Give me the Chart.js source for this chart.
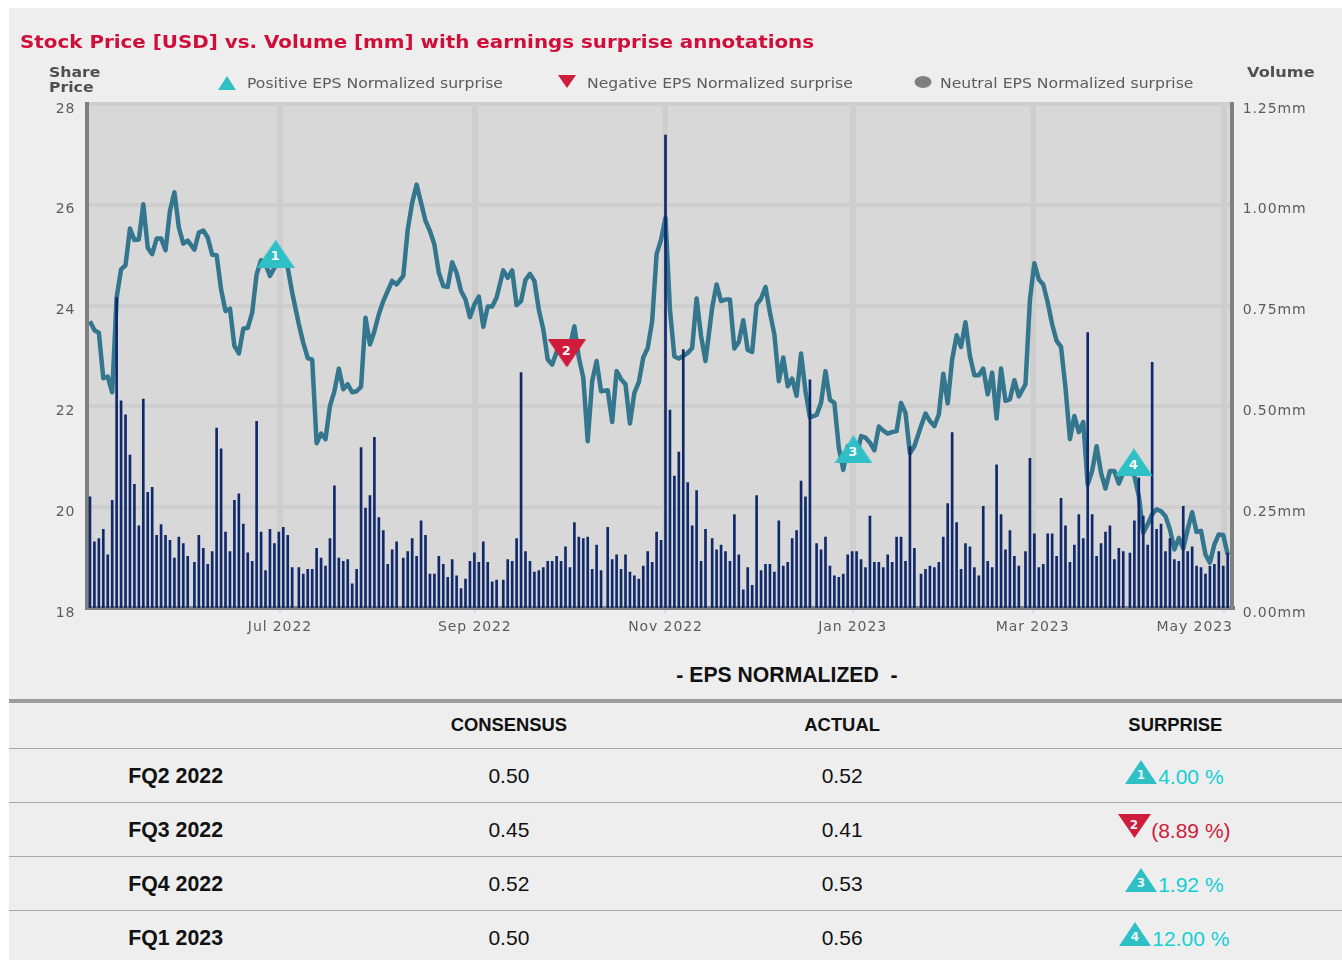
<!DOCTYPE html>
<html>
<head>
<meta charset="utf-8">
<title>Stock Price vs. Volume</title>
<script src="https://cdn.jsdelivr.net/npm/chart.js@4"></script>
<style>
  html, body { margin: 0; padding: 0; background: #fff; width: 1342px; height: 960px; overflow: hidden; }
  #panel { position: absolute; left: 9px; top: 8px; width: 1333px; height: 952px; background: #eeeeee; }
  #grafico { position: absolute; left: 0; top: 0; }
  .txt { position: absolute; white-space: nowrap; font-family: "DejaVu Sans", sans-serif; color: #5c5c5c; line-height: 1; transform-origin: left center; }
  .title { left: 20px; top: 34px; font-size: 17px; font-weight: bold; color: #cf0f3a; transform: scaleX(1.169); }
  .axname { font-size: 14px; font-weight: bold; color: #505050; transform: scaleX(1.12); }
  .legend { top: 77px; font-size: 13.5px; transform: scaleX(1.158); }
  .mark { position: absolute; }
  .eps { position: absolute; left: 0; width: 1574px; top: 663px; text-align: center; font: bold 21.2px "Liberation Sans", Arial, sans-serif; color: #111; white-space: pre; }
  table { position: absolute; left: 9px; top: 699px; width: 1333px; table-layout: fixed; border-collapse: collapse; border-top: 4px solid #9c9c9c;
          font: 21px "Liberation Sans", Arial, sans-serif; color: #111; }
  td, th { text-align: center; padding: 2px 0 0 0; border-bottom: 1.5px solid #a8a8a8; }
  tr { height: 54px; }
  tr.head { height: 47px; }
  tr.head th { font-size: 18.4px; padding: 0; }
  td.q { font-weight: bold; font-size: 21.3px; }
  .up { color: #12cfd3; }
  .down { color: #d01c3c; }
  .surp { position: relative; top: -2px; left: -1px; }
  .sv { vertical-align: baseline; }
</style>
</head>
<body>
<div id="panel"></div>
<canvas id="grafico" width="1342" height="660"></canvas>

<div class="txt title">Stock Price [USD] vs. Volume [mm] with earnings surprise annotations</div>
<div class="txt axname" style="left:49px;top:65px">Share</div>
<div class="txt axname" style="left:49px;top:80px">Price</div>
<div class="txt axname" style="left:1247px;top:65px;transform:scaleX(1.155)">Volume</div>

<svg class="mark" style="left:218px;top:76px" width="18" height="14"><polygon points="9,0 18,14 0,14" fill="#2fc0c6"/></svg>
<div class="txt legend" style="left:247px">Positive EPS Normalized surprise</div>
<svg class="mark" style="left:558px;top:75px" width="18" height="13"><polygon points="0,0 18,0 9,13" fill="#cf1c3c"/></svg>
<div class="txt legend" style="left:587px">Negative EPS Normalized surprise</div>
<svg class="mark" style="left:914px;top:76px" width="18" height="12"><ellipse cx="9" cy="6" rx="8.5" ry="6" fill="#7f7f7f"/></svg>
<div class="txt legend" style="left:940px">Neutral EPS Normalized surprise</div>

<div class="eps">- EPS NORMALIZED  -</div>

<table id="tabla"></table>

<script>
// Volume in mm per session, null marks a small break in the axis
var volume = [
  .276,.164,.172,.195,.132,.267,.770,.514,.479,.379,.307,.204,.518,.287,.299,.180,.207,.180,.168,.124,.176,.160,.128, null,
  .113,.180,.148,.108,.140,.446,.395,.188,.140,.267,.283,.208,.137,.116,.463,.188,.093,.195,.160,.188,.200,.180,.100, null,
  .100,.084,.096,.096,.148,.124,.104,.172,.303,.124,.116,.120,.060,.096,.398,.248,.279,.423,.224,.192,.108,.144,.164, null,
  .124,.140,.172,.128,.216,.180,.084,.084,.128,.108,.076,.120,.080,.048,.072,.116,.137,.113,.164,.113,.065,.069, null,
  .069,.120,.116,.172,.584,.140,.116,.089,.093,.100,.116,.116,.128,.116,.152,.100,.212,.176,.172,.176,.096,.156,.093, null,
  .200,.120,.132,.096,.132,.089,.080,.072,.104,.140,.113,.188,.168,1.173,.491,.327,.387,.641,.311,.204,.291,.116,.195, null,
  .172,.144,.156,.140,.116,.232,.132,.045,.100,.056,.279,.093,.108,.108,.089,.216,.104,.113,.172,.192,.315,.276,.566, null,
  .160,.144,.176,.104,.080,.076,.084,.132,.140,.140,.120,.100,.228,.113,.113,.100,.132,.113,.176,.176,.116,.400,.148, null,
  .084,.096,.104,.100,.113,.176,.259,.435,.212,.096,.160,.152,.100,.080,.252,.116,.100,.355,.232,.144,.192,.128,.104, null,
  .140,.371,.184,.100,.108,.184,.184,.128,.272,.204,.113,.156,.232,.172,.683,.232,.128,.160,.188,.204,.120,.148,.140, null,
  .136,.216,.323,.228,.156,.609,.195,.208,.140,.172,.120,.116,.252,.140,.152,.104,.100,.084,.104,.108,.140,.104,.136
];

// Share price in USD, same sessions as volume
var price = [
  23.69,23.51,23.46,22.56,22.59,22.28,24.16,24.72,24.80,25.53,25.30,25.31,26.01,25.15,25.02,25.33,25.33,25.10,25.88,26.25,25.55,25.23,25.29, null,
  25.11,25.45,25.49,25.35,25.01,25.00,24.32,23.89,23.94,23.20,23.05,23.54,23.56,23.86,24.62,24.90,24.82,24.59,24.75,24.95,24.92,24.75,24.26, null,
  23.63,23.26,22.96,22.93,21.27,21.46,21.35,22.01,22.30,22.75,22.34,22.44,22.28,22.30,22.39,23.76,23.23,23.49,23.83,24.09,24.29,24.49,24.42, null,
  24.59,25.51,26.04,26.40,26.04,25.68,25.48,25.21,24.65,24.39,24.37,24.86,24.65,24.29,24.12,23.77,24.02,24.18,23.58,23.98,23.98,24.16, null,
  24.70,24.55,24.70,24.01,24.09,24.51,24.63,24.49,23.92,23.53,22.93,22.83,23.08,23.16,23.06,23.20,23.59,22.97,22.57,21.31,22.50,22.90,22.30, null,
  22.32,21.69,22.70,22.54,22.44,21.66,22.27,22.48,22.97,23.16,23.69,25.02,25.31,25.74,23.92,22.99,22.95,23.00,23.06,23.16,24.14,23.40,22.90, null,
  23.96,24.42,24.09,24.12,24.12,23.15,23.28,23.71,23.12,23.08,24.02,24.14,24.37,23.86,23.43,22.50,22.97,22.40,22.55,22.21,23.05,22.30,21.78, null,
  21.83,22.07,22.70,22.13,22.07,21.18,20.74,21.21,21.18,21.00,21.41,21.38,21.28,21.13,21.60,21.52,21.46,21.49,21.51,22.07,21.87,21.07,21.21, null,
  21.61,21.86,21.71,21.61,21.84,22.65,22.06,22.93,23.41,23.18,23.67,23.00,22.62,22.62,22.75,22.24,22.67,21.76,22.75,22.11,22.14,22.52,22.20, null,
  22.44,24.12,24.84,24.52,24.42,24.06,23.63,23.30,23.18,22.37,21.35,21.81,21.49,21.69,20.45,20.72,21.21,20.68,20.37,20.72,20.72,20.47,20.68, null,
  20.75,20.62,20.22,19.49,19.66,19.86,19.96,19.92,19.82,19.56,19.16,19.39,19.18,19.56,19.90,19.51,19.53,19.06,18.90,19.26,19.46,19.45,19.06
];

// Axis months, placed in session units
var tickSessions = [42.75, 86.6, 129.5, 171.6, 212.1, 255.2];
var tickLabels = ['Jul 2022', 'Sep 2022', 'Nov 2022', 'Jan 2023', 'Mar 2023', 'May 2023' + '\u00a0'.repeat(11)];

// Earnings surprise markers
var surpriseSessions = [41.8, 107.3, 171.8, 234.9];
var surprisePrice = [25.03, 23.05, 21.15, 20.89];
var surpriseNames = ['1', '2', '3', '4'];
var surpriseUp = [true, false, true, true];

// Table below the chart
var tableQuarters = ['FQ2 2022', 'FQ3 2022', 'FQ4 2022', 'FQ1 2023'];
var tableConsensus = ['0.50', '0.45', '0.52', '0.50'];
var tableActual = ['0.52', '0.41', '0.53', '0.56'];
var tableSurprise = ['4.00 %', '(8.89 %)', '1.92 %', '12.00 %'];

var TEAL = '#2fc0c6';
var RED = '#cf1c3c';

// A null in the lists is a half session break on the axis
function toPoints(values) {
  var out = [];
  var x = 0;
  values.forEach(function (v) {
    if (v === null) {
      x += 0.5;
    } else {
      out.push({ x: x, y: v });
      x += 1;
    }
  });
  return out;
}

function triangleImage(up) {
  var c = document.createElement('canvas');
  c.width = 38; c.height = 28;
  var g = c.getContext('2d');
  g.fillStyle = up ? TEAL : RED;
  g.beginPath();
  if (up) { g.moveTo(19, 0); g.lineTo(38, 28); g.lineTo(0, 28); }
  else { g.moveTo(0, 0); g.lineTo(38, 0); g.lineTo(19, 28); }
  g.closePath();
  g.fill();
  return c;
}

var plotBackground = {
  id: 'plotBackground',
  beforeLayout: function (chart) { chart.ctx.letterSpacing = '0.9px'; },
  beforeDraw: function (chart) {
    var a = chart.chartArea;
    chart.ctx.letterSpacing = '0.9px';
    chart.ctx.fillStyle = '#d8d8d8';
    chart.ctx.fillRect(a.left, a.top, a.width, a.height);
  }
};

var markerNumbers = {
  id: 'markerNumbers',
  afterDatasetsDraw: function (chart) {
    var ctx = chart.ctx;
    var pts = chart.getDatasetMeta(2).data;
    ctx.save();
    ctx.fillStyle = '#ffffff';
    ctx.font = 'bold 13px "DejaVu Sans"';
    ctx.textAlign = 'center';
    ctx.textBaseline = 'middle';
    pts.forEach(function (p, i) {
      ctx.fillText(surpriseNames[i], p.x, p.y + (surpriseUp[i] ? 3 : -2));
    });
    ctx.restore();
  }
};

var tickFont = { family: '"DejaVu Sans"', size: 14, lineHeight: 0.72 };

var ctx = document.getElementById('grafico').getContext('2d');
var chart = new Chart(ctx, {
  type: 'bar',
  data: {
    datasets: [
      {
        type: 'bar',
        label: 'Volume',
        data: toPoints(volume),
        yAxisID: 'yVol',
        backgroundColor: '#10296c',
        barThickness: 2,
        order: 1
      },
      {
        type: 'line',
        label: 'Share Price',
        data: toPoints(price),
        yAxisID: 'yPrice',
        borderColor: '#33768e',
        borderWidth: 4.5,
        borderJoinStyle: 'round',
        pointRadius: 0,
        tension: 0,
        order: 2
      },
      {
        type: 'line',
        label: 'EPS surprise',
        data: surpriseSessions.map(function (s, k) { return { x: s, y: surprisePrice[k] }; }),
        yAxisID: 'yPrice',
        showLine: false,
        pointStyle: surpriseUp.map(triangleImage),
        order: 0
      }
    ]
  },
  options: {
    responsive: false,
    animation: false,
    layout: { padding: { top: 104 } },
    plugins: { legend: { display: false }, tooltip: { enabled: false } },
    scales: {
      x: {
        type: 'linear',
        min: -0.6,
        max: 256.9,
        offset: false,
        afterBuildTicks: function (axis) {
          axis.ticks = tickSessions.map(function (s) { return { value: s }; });
        },
        afterFit: function (axis) { axis.height = 52; },
        grid: { offset: false, color: '#cecece', lineWidth: 6, tickLength: 5, tickColor: '#c6d6e6', tickWidth: 1.5 },
        border: { color: '#808080', width: 4 },
        ticks: {
          autoSkip: false,
          maxRotation: 0,
          padding: 6,
          color: '#5c5c5c',
          font: { family: '"DejaVu Sans"', size: 14 },
          callback: function (v, i) { return tickLabels[i]; }
        }
      },
      yPrice: {
        position: 'left',
        min: 18,
        max: 28,
        afterFit: function (axis) { axis.width = 87.3; },
        grid: {
          color: function (c) { return c.tick.value === 18 ? 'rgba(0,0,0,0)' : '#cecece'; },
          lineWidth: 4,
          drawTicks: false
        },
        border: { color: '#808080', width: 4 },
        ticks: {
          stepSize: 2,
          padding: 12,
          color: '#5c5c5c',
          font: tickFont,
          callback: function (v) { return ['', String(v)]; }
        }
      },
      yVol: {
        position: 'right',
        min: 0,
        max: 1.25,
        afterFit: function (axis) { axis.width = 110.3; },
        grid: { display: false, drawTicks: false },
        border: { color: '#808080', width: 4 },
        ticks: {
          stepSize: 0.25,
          padding: 11,
          color: '#5c5c5c',
          font: tickFont,
          callback: function (v) { return ['', v.toFixed(2) + 'mm']; }
        }
      }
    }
  },
  plugins: [plotBackground, markerNumbers]
});

// Table
function smallTriangle(i) {
  var up = surpriseUp[i];
  var pts = up ? '16,0 32,24 0,24' : '0,0 33,0 16.5,24';
  return '<svg class="sv" width="33" height="24"><polygon points="' + pts + '" fill="' + (up ? TEAL : RED) + '"/>' +
    '<text x="16" y="' + (up ? 19 : 15) + '" text-anchor="middle" font-family="DejaVu Sans" font-weight="bold" font-size="12" fill="#e8f4f4">' + surpriseNames[i] + '</text></svg>';
}

var rows = '<tr class="head"><th></th><th>CONSENSUS</th><th>ACTUAL</th><th>SURPRISE</th></tr>';
tableQuarters.forEach(function (q, i) {
  rows += '<tr><td class="q">' + q + '</td><td>' + tableConsensus[i] + '</td><td>' + tableActual[i] + '</td>' +
    '<td class="' + (surpriseUp[i] ? 'up' : 'down') + '"><span class="surp">' + smallTriangle(i) + tableSurprise[i] + '</span></td></tr>';
});
document.getElementById('tabla').innerHTML = rows;
</script>
</body>
</html>
